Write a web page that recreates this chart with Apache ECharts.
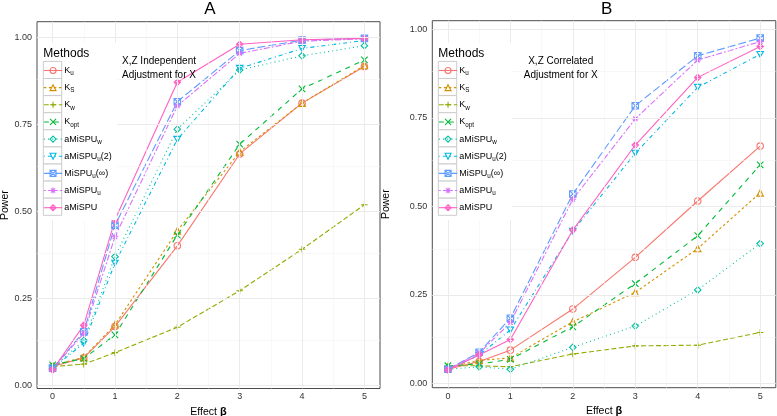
<!DOCTYPE html>
<html><head><meta charset="utf-8">
<script src="https://cdn.jsdelivr.net/npm/echarts@6/dist/echarts.min.js"></script>
<style>html,body{margin:0;padding:0;background:#fff}#c{width:777px;height:416px}</style>
</head><body><div id="c"></div>
<script>
// ---------- data ----------
const effect = [0, 0.5, 1, 2, 3, 4, 5];
const methods = ['Ku', 'KS', 'Kw', 'Kopt', 'aMiSPUw', 'aMiSPUu2', 'MiSPUinf', 'aMiSPUu', 'aMiSPU'];
const xTicks = [0, 1, 2, 3, 4, 5];
const xMinor = [0.5, 1.5, 2.5, 3.5, 4.5];
const yTicks = [0, 0.25, 0.5, 0.75, 1];
const yMinor = [0.125, 0.375, 0.625, 0.875];
const panelTitles = ['A', 'B'];
const notesA = ['X,Z Independent', 'Adjustment for X'];
const notesB = ['X,Z Correlated', 'Adjustment for X'];

// Panel A: X,Z independent
const A_Ku       = [0.055, 0.080, 0.170, 0.402, 0.666, 0.812, 0.917];
const A_KS       = [0.058, 0.082, 0.175, 0.445, 0.672, 0.812, 0.920];
const A_Kw       = [0.055, 0.062, 0.095, 0.168, 0.273, 0.392, 0.520];
const A_Kopt     = [0.060, 0.078, 0.146, 0.433, 0.694, 0.853, 0.936];
const A_aMiSPUw  = [0.050, 0.130, 0.371, 0.737, 0.907, 0.948, 0.977];
const A_aMiSPUu2 = [0.050, 0.122, 0.352, 0.708, 0.912, 0.969, 0.992];
const A_MiSPUinf = [0.050, 0.155, 0.461, 0.816, 0.963, 0.993, 0.998];
const A_aMiSPUu  = [0.048, 0.150, 0.428, 0.804, 0.955, 0.990, 0.997];
const A_aMiSPU   = [0.045, 0.174, 0.476, 0.872, 0.981, 0.994, 0.998];

// Panel B: X,Z correlated
const B_Ku       = [0.040, 0.062, 0.094, 0.210, 0.356, 0.515, 0.670];
const B_KS       = [0.045, 0.065, 0.072, 0.174, 0.257, 0.381, 0.538];
const B_Kw       = [0.050, 0.050, 0.047, 0.083, 0.106, 0.108, 0.144];
const B_Kopt     = [0.050, 0.055, 0.068, 0.160, 0.282, 0.417, 0.617];
const B_aMiSPUw  = [0.040, 0.047, 0.040, 0.102, 0.162, 0.264, 0.395];
const B_aMiSPUu2 = [0.040, 0.080, 0.151, 0.430, 0.650, 0.836, 0.929];
const B_MiSPUinf = [0.040, 0.088, 0.184, 0.535, 0.784, 0.925, 0.975];
const B_aMiSPUu  = [0.040, 0.085, 0.172, 0.520, 0.747, 0.913, 0.965];
const B_aMiSPU   = [0.038, 0.080, 0.124, 0.433, 0.673, 0.864, 0.951];

const panelA = {Ku: A_Ku, KS: A_KS, Kw: A_Kw, Kopt: A_Kopt, aMiSPUw: A_aMiSPUw, aMiSPUu2: A_aMiSPUu2, MiSPUinf: A_MiSPUinf, aMiSPUu: A_aMiSPUu, aMiSPU: A_aMiSPU};
const panelB = {Ku: B_Ku, KS: B_KS, Kw: B_Kw, Kopt: B_Kopt, aMiSPUw: B_aMiSPUw, aMiSPUu2: B_aMiSPUu2, MiSPUinf: B_MiSPUinf, aMiSPUu: B_aMiSPUu, aMiSPU: B_aMiSPU};

// ---------- styles ----------
const FF = '"Liberation Sans", Arial, Helvetica, sans-serif';
const styles = {
  Ku:       {c: '#F8766D', dash: 'solid',      sym: 'circle'},
  KS:       {c: '#D39200', dash: [2.5, 2.5],   sym: 'triangle'},
  Kw:       {c: '#93AA00', dash: [5, 2.5],     sym: 'path://M5,0L5,10M0,5L10,5'},
  Kopt:     {c: '#00BA38', dash: [5, 5],       sym: 'path://M0,0L10,10M10,0L0,10'},
  aMiSPUw:  {c: '#00C19F', dash: [1, 3.2],     sym: 'diamond'},
  aMiSPUu2: {c: '#00B9E3', dash: [1, 3, 4, 3], sym: 'path://M0,0L10,0L5,9Z'},
  MiSPUinf: {c: '#619CFF', dash: [8, 3],       sym: 'path://M0,0L10,0L10,10L0,10ZM0,0L10,10M10,0L0,10'},
  aMiSPUu:  {c: '#DB72FB', dash: [2, 2, 6, 2], sym: 'path://M5,0L5,10M0,5L10,5M1.5,1.5L8.5,8.5M8.5,1.5L1.5,8.5'},
  aMiSPU:   {c: '#FF61C3', dash: 'solid',      sym: 'path://M5,0L10,5L5,10L0,5ZM5,0L5,10M0,5L10,5'}
};
const labels = {
  Ku: '{m|K}{s|u}', KS: '{m|K}{s|S}', Kw: '{m|K}{s|w}', Kopt: '{m|K}{s|opt}',
  aMiSPUw: '{m|aMiSPU}{s|w}', aMiSPUu2: '{m|aMiSPU}{s|u}{m|(2)}',
  MiSPUinf: '{m|MiSPU}{s|u}{m|(∞)}', aMiSPUu: '{m|aMiSPU}{s|u}', aMiSPU: '{m|aMiSPU}'
};

const grids = [
  {left: 37, top: 21.7, width: 343, height: 366.8, ymin: -0.008, ymax: 1.046, nameGap: 25},
  {left: 432.3, top: 20.7, width: 343.5, height: 367, ymin: -0.012, ymax: 1.024, nameGap: 41}
];

function xAxisFor(gi) {
  return {
    type: 'value', gridIndex: gi, min: -0.25, max: 5.25,
    axisLine: {show: false}, splitLine: {show: false},
    axisTick: {show: true, customValues: xTicks, length: 3, lineStyle: {color: '#333', width: 1}},
    axisLabel: {customValues: xTicks, margin: 4, fontSize: 9, color: '#333', fontFamily: FF},
    name: 'Effect {b|β}', nameLocation: 'middle', nameGap: 15,
    nameTextStyle: {fontSize: 10.5, color: '#000', fontFamily: FF,
      rich: {b: {fontSize: 11, fontWeight: 'bold', color: '#000', fontFamily: FF}}}
  };
}
function yAxisFor(gi) {
  return {
    type: 'value', gridIndex: gi, min: grids[gi].ymin, max: grids[gi].ymax,
    axisLine: {show: false}, splitLine: {show: false},
    axisTick: {show: true, customValues: yTicks, length: 3, lineStyle: {color: '#333', width: 1}},
    axisLabel: {customValues: yTicks, margin: 5, fontSize: 9, color: '#333', fontFamily: FF,
      formatter: v => v.toFixed(2)},
    name: 'Power', nameLocation: 'middle', nameGap: grids[gi].nameGap,
    nameTextStyle: {fontSize: 10.5, color: '#000', fontFamily: FF}
  };
}

const series = [];
// gridlines as background marker lines
[0, 1].forEach(gi => {
  const md = [];
  xMinor.forEach(v => md.push({xAxis: v, lineStyle: {color: '#F3F3F3', width: 0.6, type: 'solid'}}));
  yMinor.forEach(v => md.push({yAxis: v, lineStyle: {color: '#F3F3F3', width: 0.6, type: 'solid'}}));
  xTicks.forEach(v => md.push({xAxis: v, lineStyle: {color: '#EBEBEB', width: 1, type: 'solid'}}));
  yTicks.forEach(v => md.push({yAxis: v, lineStyle: {color: '#EBEBEB', width: 1, type: 'solid'}}));
  series.push({
    type: 'line', name: 'grid' + gi, xAxisIndex: gi, yAxisIndex: gi, data: [], z: 1, silent: true,
    markLine: {silent: true, symbol: ['none', 'none'], label: {show: false}, animation: false, data: md}
  });
});
[panelA, panelB].forEach((panel, gi) => {
  methods.forEach(m => {
    const s = styles[m];
    series.push({
      type: 'line', name: m, xAxisIndex: gi, yAxisIndex: gi, z: 3,
      data: effect.map((x, i) => [x, panel[m][i]]),
      symbol: s.sym, symbolSize: 6.5, symbolKeepAspect: true, showAllSymbol: true,
      lineStyle: {color: s.c, width: 1.1, type: s.dash},
      itemStyle: {color: 'rgba(0,0,0,0)', borderColor: s.c, borderWidth: 1.1},
      emphasis: {disabled: true}, clip: false
    });
  });
});

const keyTop = 61.4;
const legendLeft = [43.3, 438.3];
const legends = [0, 1].map(gi => ({
  orient: 'vertical', left: legendLeft[gi], top: 66, padding: 0,
  itemWidth: 18.4, itemHeight: 7.5, itemGap: 6.65, selectedMode: false, z: 10,
  data: methods,
  lineStyle: {width: 1.1},
  itemStyle: {borderWidth: 1.1},
  formatter: n => labels[n],
  textStyle: {fontFamily: FF, fontSize: 9, color: '#000', padding: [0, 0, 0, -3],
    rich: {
      m: {fontSize: 9, lineHeight: 12, color: '#000', fontFamily: FF},
      s: {fontSize: 6.3, verticalAlign: 'bottom', color: '#000', fontFamily: FF}
    }}
}));

const graphic = [];
// panel titles
const titleX = [210, 606.7];
panelTitles.forEach((t, i) => graphic.push({type: 'text', x: titleX[i], y: 9.5, z: 10,
  style: {text: t, fontSize: 17, fontFamily: FF, fill: '#000', align: 'center', verticalAlign: 'middle'}}));
// legend backgrounds, titles and key boxes
const bgRight = [117, 512];
[0, 1].forEach(gi => {
  const l = legendLeft[gi];
  graphic.push({type: 'rect', z: 8, shape: {x: l - 5, y: 43, width: bgRight[gi] - l + 5, height: 177},
    style: {fill: '#fff', stroke: null}});
  graphic.push({type: 'text', z: 10, x: l, y: 53.3,
    style: {text: 'Methods', fontSize: 12, fontFamily: FF, fill: '#000', verticalAlign: 'middle'}});
  methods.forEach((m, i) => graphic.push({type: 'rect', z: 9,
    shape: {x: l, y: keyTop + 17.1 * i, width: 18.4, height: 17.1},
    style: {fill: '#fff', stroke: '#CCCCCC', lineWidth: 1}}));
});
// annotations
const noteX = [159, 560.7];
[notesA, notesB].forEach((notes, gi) => notes.forEach((t, k) => graphic.push({type: 'text', z: 10,
  x: noteX[gi], y: 61 + 14 * k,
  style: {text: t, fontSize: 10, fontFamily: FF, fill: '#000', align: 'center', verticalAlign: 'middle'}})));

const chart = echarts.init(document.getElementById('c'), null, {renderer: 'canvas'});
chart.setOption({
  animation: false,
  backgroundColor: '#fff',
  grid: grids.map(g => ({left: g.left, top: g.top, width: g.width, height: g.height,
    show: true, backgroundColor: '#fff', borderColor: '#4D4D4D', borderWidth: 1,
    containLabel: false, outerBoundsMode: 'none'})),
  xAxis: [xAxisFor(0), xAxisFor(1)],
  yAxis: [yAxisFor(0), yAxisFor(1)],
  legend: legends,
  series: series,
  graphic: graphic
});
</script></body></html>
